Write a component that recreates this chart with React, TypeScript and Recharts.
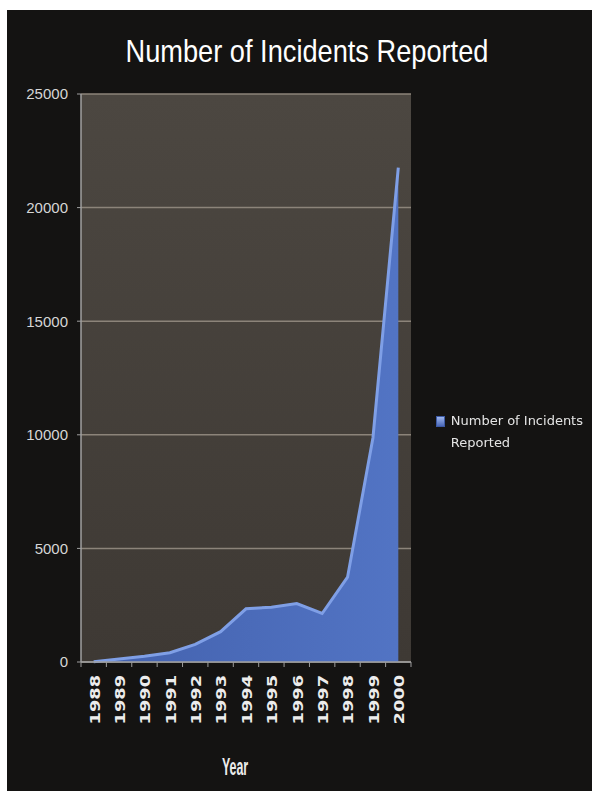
import React from "react";
import { Area, AreaChart, CartesianGrid, Legend, XAxis, YAxis } from "recharts";

// Incidents reported per year
const years = [
  "1988", "1989", "1990", "1991", "1992", "1993", "1994",
  "1995", "1996", "1997", "1998", "1999", "2000",
];
const incidents = [
  6, 132, 252, 406, 773, 1334, 2340, 2412, 2573, 2134, 3734, 9859, 21756,
];
const yTicks = [0, 5000, 10000, 15000, 20000, 25000];

const data = years.map((year, i) => ({ year, incidents: incidents[i] }));

const W = 585;
const H = 781;
const margin = { top: 84, right: 181, bottom: 0, left: 0 };
const Y_AXIS_W = 74;
const X_AXIS_H = 129;
const band = (W - margin.left - margin.right - Y_AXIS_W) / years.length;

const YearTick = (props: any) => {
  const { x, y, payload, index } = props;
  return (
    <g>
      <line x1={x - band / 2} y1={y} x2={x - band / 2} y2={y + 5} stroke="#9c9c9c" />
      {index === years.length - 1 && (
        <line x1={x + band / 2} y1={y} x2={x + band / 2} y2={y + 5} stroke="#9c9c9c" />
      )}
      <text
        transform={`translate(${x + 1},${y + 13}) rotate(-90) scale(1.27,1)`}
        textAnchor="end"
        dominantBaseline="central"
        fill="#ececec"
        fontFamily="DejaVu Sans"
        fontWeight="bold"
        fontSize={14}
      >
        {payload.value}
      </text>
    </g>
  );
};

const YearLabel = (props: any) => {
  const { viewBox } = props;
  const cx = viewBox.x + viewBox.width / 2 - 11;
  const cy = viewBox.y + viewBox.height - 16;
  return (
    <text
      transform={`translate(${cx},${cy}) scale(0.62,1.2)`}
      textAnchor="middle"
      fill="#ececec"
      fontFamily="Liberation Sans, sans-serif"
      fontWeight="bold"
      fontSize={20}
    >
      Year
    </text>
  );
};

const LegendBox = (props: any) => {
  const item = props.payload && props.payload[0];
  return (
    <div style={{ display: "flex", alignItems: "flex-start" }}>
      <span
        style={{
          display: "inline-block",
          width: 7,
          height: 9,
          marginTop: 6,
          marginRight: 6,
          background: "linear-gradient(#9db6ee, #4a68b8)",
          border: "1px solid #3d5aa5",
        }}
      />
      <div
        style={{
          width: 150,
          fontFamily: "DejaVu Sans",
          fontSize: 13,
          lineHeight: "22px",
          color: "#e4e4e4",
        }}
      >
        {item ? item.value : ""}
      </div>
    </div>
  );
};

export default function App() {
  return (
    <div
      style={{
        position: "fixed",
        left: 7,
        top: 10,
        width: W,
        height: H,
        background: "#141312",
      }}
    >
      <div
        style={{
          position: "absolute",
          left: 0,
          top: 23,
          width: 600,
          textAlign: "center",
          color: "#ffffff",
          fontFamily: "Liberation Sans, sans-serif",
          fontSize: 32,
          transform: "scaleX(0.85)",
          transformOrigin: "300px 0",
        }}
      >
        Number of Incidents Reported
      </div>
      <AreaChart width={W} height={H} data={data} margin={margin}>
        <defs>
          <linearGradient id="plotBg" x1="0" y1="0" x2="0" y2="1">
            <stop offset="0%" stopColor="#4c4741" />
            <stop offset="100%" stopColor="#3e3934" />
          </linearGradient>
          <linearGradient id="areaFill" x1="0" y1="0" x2="1" y2="0">
            <stop offset="0%" stopColor="#4361ad" />
            <stop offset="100%" stopColor="#5274c4" />
          </linearGradient>
        </defs>
        <CartesianGrid
          vertical={false}
          fill="url(#plotBg)"
          stroke="#8c847a"
          strokeWidth={1.5}
        />
        <XAxis
          dataKey="year"
          scale="band"
          interval={0}
          height={X_AXIS_H}
          tickLine={false}
          tickSize={0}
          tickMargin={0}
          axisLine={{ stroke: "#a0a0a0", strokeWidth: 1.5 }}
          tick={<YearTick />}
          label={<YearLabel />}
        />
        <YAxis
          width={Y_AXIS_W}
          domain={[0, 25000]}
          ticks={yTicks}
          interval={0}
          tickSize={4}
          tickMargin={9}
          tickLine={{ stroke: "#a0a0a0" }}
          axisLine={{ stroke: "#a0a0a0", strokeWidth: 1.5 }}
          tick={{
            fill: "#d6d6d6",
            fontFamily: "Liberation Sans, sans-serif",
            fontSize: 15,
          }}
        />
        <Legend
          layout="vertical"
          align="center"
          verticalAlign="middle"
          content={<LegendBox />}
          wrapperStyle={{ left: 429, top: 400, width: 160 }}
        />
        <Area
          type="linear"
          dataKey="incidents"
          name="Number of Incidents Reported"
          stroke="#7f9fe6"
          strokeWidth={3}
          fill="url(#areaFill)"
          fillOpacity={1}
          isAnimationActive={false}
        />
      </AreaChart>
    </div>
  );
}
